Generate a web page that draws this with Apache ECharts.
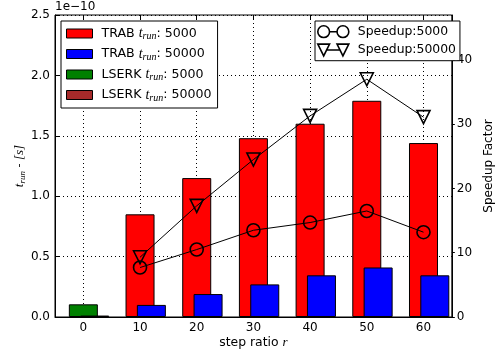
<!DOCTYPE html>
<html>
<head>
<meta charset="utf-8">
<script src="https://cdn.jsdelivr.net/npm/echarts@6/dist/echarts.min.js"></script>
<style>
  html, body { margin: 0; padding: 0; background: #fff; }
  #chart { width: 503px; height: 356px; }
</style>
</head>
<body>
<div id="chart"></div>
<script>
// step ratios r
const stepRatios = [10, 20, 30, 40, 50, 60];
// run time per step, in units of 1e-10 s
const trab5000 = [0.85, 1.15, 1.48, 1.60, 1.79, 1.44];
const trab50000 = [0.10, 0.19, 0.27, 0.345, 0.41, 0.345];
const lserkRatio = [0];
const lserk5000 = [0.105];
const lserk50000 = [0.012];
// speedup factors
const speedup5000 = [7.7, 10.5, 13.5, 14.7, 16.5, 13.2];
const speedup50000 = [9.3, 17.3, 24.5, 31.3, 37.0, 31.1];
// axis ticks
const leftTicks = ['0.0', '0.5', '1.0', '1.5', '2.0', '2.5'];
const rightTicks = ['0', '10', '20', '30', '40'];

const FONT = 'DejaVu Sans';
const MATH = 'Liberation Serif';

const pairs = (xs, ys) => xs.map((x, i) => [x, ys[i]]);

const richMath = {
  m: { fontFamily: MATH, fontStyle: 'italic', fontSize: 14, color: '#000' },
  s: { fontFamily: MATH, fontStyle: 'italic', fontSize: 10, color: '#000', padding: [6, 0, 0, 0] }
};
const subRun = txt => txt.replace('t_run', '{m|t}{s|run}');

const chart = echarts.init(document.getElementById('chart'), null, { renderer: 'canvas' });

const barCommon = {
  type: 'bar',
  barWidth: 29,
  barGap: '-100%',
  yAxisIndex: 0,
  emphasis: { disabled: true },
  animation: false
};

const circleIcon = 'path://M1,6.5a5.5,5.5 0 1,0 11,0a5.5,5.5 0 1,0 -11,0M12,6.5L19,6.5M19,6.5a5.5,5.5 0 1,0 11,0a5.5,5.5 0 1,0 -11,0';
const triIcon = 'path://M1,1L12,1L6.5,12ZM9.25,6.5L21.75,6.5M19,1L30,1L24.5,12Z';

chart.setOption({
  animation: false,
  textStyle: { fontFamily: FONT, fontSize: 12, color: '#000' },
  grid: { left: 55, right: 38, top: 15, bottom: 39, show: true, borderColor: '#000', borderWidth: 1, backgroundColor: 'transparent' },
  xAxis: [
    {
      type: 'value', min: -5, max: 65, splitNumber: 7, position: 'bottom',
      name: '{a|step ratio }{m|r}', nameLocation: 'middle', nameGap: 19, nameMoveOverlap: false,
      nameTextStyle: { rich: { a: { fontFamily: FONT, fontSize: 12.4, color: '#000' }, m: { fontFamily: MATH, fontStyle: 'italic', fontSize: 13, color: '#000' } } },
      axisLine: { show: true, onZero: false, lineStyle: { color: '#000', width: 1 } },
      axisTick: { show: true, inside: true, length: 4, lineStyle: { color: '#000' } },
      axisLabel: { showMinLabel: false, showMaxLabel: false, color: '#000', fontSize: 12, margin: 5 },
      splitLine: { show: true, lineStyle: { color: '#000', type: [1, 3], width: 1 } }
    },
    {
      // second bar of each pair sits two units to the right of its ratio
      type: 'value', min: -7, max: 63, show: false
    },
    {
      type: 'value', min: -5, max: 65, splitNumber: 7, position: 'top',
      axisLine: { show: false, onZero: false },
      axisTick: { show: true, inside: true, length: 4, lineStyle: { color: '#000' } },
      axisLabel: { show: false }, splitLine: { show: false }
    }
  ],
  yAxis: [
    {
      type: 'value', min: 0, max: 2.5, interval: 0.5, position: 'left',
      name: '{m|t}{s|run}{a| - }{m|[s]}', nameLocation: 'middle', nameGap: 28, nameRotate: 90, nameMoveOverlap: false,
      nameTextStyle: { rich: {
        a: { fontFamily: FONT, fontSize: 11, color: '#000' },
        m: { fontFamily: MATH, fontStyle: 'italic', fontSize: 13, color: '#000' },
        s: { fontFamily: MATH, fontStyle: 'italic', fontSize: 9, color: '#000', padding: [6, 0, 0, 0] }
      } },
      axisLine: { show: true, onZero: false, lineStyle: { color: '#000' } },
      axisTick: { show: true, inside: true, length: 4, lineStyle: { color: '#000' } },
      axisLabel: { color: '#000', fontSize: 12, margin: 5, formatter: (v) => leftTicks[Math.round(v / 0.5)] },
      splitLine: { show: true, lineStyle: { color: '#000', type: [1, 3], width: 1 } }
    },
    {
      type: 'value', min: 0, max: 47, interval: 10, position: 'right',
      name: 'Speedup Factor', nameLocation: 'middle', nameGap: 24, nameRotate: 90,
      nameTextStyle: { fontFamily: FONT, fontSize: 12, color: '#000' },
      axisLine: { show: true, onZero: false, lineStyle: { color: '#000' } },
      axisTick: { show: true, inside: false, length: 3, lineStyle: { color: '#000' } },
      axisLabel: { showMaxLabel: false, color: '#000', fontSize: 12, margin: 5, formatter: (v) => rightTicks[Math.round(v / 10)] },
      splitLine: { show: false }
    }
  ],
  legend: [
    {
      orient: 'vertical', left: 61, top: 21,
      padding: [5, 6, 5, 5], itemGap: 5, itemWidth: 26, itemHeight: 9,
      backgroundColor: '#fff', borderColor: '#000', borderWidth: 1, borderRadius: 0,
      icon: 'rect',
      data: [
        { name: 'TRAB t_run: 5000', itemStyle: { borderColor: '#000', borderWidth: 1 } },
        { name: 'TRAB t_run: 50000', itemStyle: { borderColor: '#000', borderWidth: 1 } },
        { name: 'LSERK t_run: 5000', itemStyle: { borderColor: '#000', borderWidth: 1 } },
        { name: 'LSERK t_run: 50000', itemStyle: { borderColor: '#000', borderWidth: 1 } }
      ],
      formatter: subRun,
      textStyle: {
        fontFamily: FONT, fontSize: 12.6, color: '#000', padding: [0, 0, 0, 4], lineHeight: 15,
        rich: richMath
      },
      selectedMode: false
    },
    {
      orient: 'vertical', left: 315, top: 21,
      padding: [4, 4, 4, 2], itemGap: 5, itemWidth: 31, itemHeight: 13,
      backgroundColor: '#fff', borderColor: '#000', borderWidth: 1, borderRadius: 0,
      data: [
        { name: 'Speedup:5000', icon: circleIcon, itemStyle: { color: 'rgba(0,0,0,0)', borderColor: '#000', borderWidth: 1.6 } },
        { name: 'Speedup:50000', icon: triIcon, itemStyle: { color: 'rgba(0,0,0,0)', borderColor: '#000', borderWidth: 1.6 } }
      ],
      textStyle: { fontFamily: FONT, fontSize: 12.4, color: '#000', padding: [0, 0, 0, 4] },
      selectedMode: false
    }
  ],
  graphic: [
    { type: 'text', left: 55, top: 1, style: { text: '1e\u221210', font: '12px "DejaVu Sans"', fill: '#000' } }
  ],
  series: [
    Object.assign({}, barCommon, { name: 'TRAB t_run: 5000', xAxisIndex: 0, data: pairs(stepRatios, trab5000), itemStyle: { color: '#ff0000', borderColor: '#000', borderWidth: 1 } }),
    Object.assign({}, barCommon, { name: 'LSERK t_run: 5000', xAxisIndex: 0, data: pairs(lserkRatio, lserk5000), itemStyle: { color: '#008000', borderColor: '#000', borderWidth: 1 } }),
    Object.assign({}, barCommon, { name: 'TRAB t_run: 50000', xAxisIndex: 1, data: pairs(stepRatios, trab50000), itemStyle: { color: '#0000ff', borderColor: '#000', borderWidth: 1 } }),
    Object.assign({}, barCommon, { name: 'LSERK t_run: 50000', xAxisIndex: 1, data: pairs(lserkRatio, lserk50000), itemStyle: { color: '#a52a2a', borderColor: '#000', borderWidth: 1 } }),
    {
      name: 'Speedup:5000', type: 'line', xAxisIndex: 0, yAxisIndex: 1,
      data: pairs(stepRatios, speedup5000),
      symbol: 'circle', symbolSize: 13,
      lineStyle: { color: '#000', width: 1 },
      itemStyle: { color: 'rgba(0,0,0,0)', borderColor: '#000', borderWidth: 1.6 },
      emphasis: { disabled: true }, z: 5
    },
    {
      name: 'Speedup:50000', type: 'line', xAxisIndex: 0, yAxisIndex: 1,
      data: pairs(stepRatios, speedup50000),
      symbol: 'triangle', symbolSize: 13, symbolRotate: 180,
      lineStyle: { color: '#000', width: 1 },
      itemStyle: { color: 'rgba(0,0,0,0)', borderColor: '#000', borderWidth: 1.6 },
      emphasis: { disabled: true }, z: 5
    }
  ]
});
</script>
</body>
</html>
